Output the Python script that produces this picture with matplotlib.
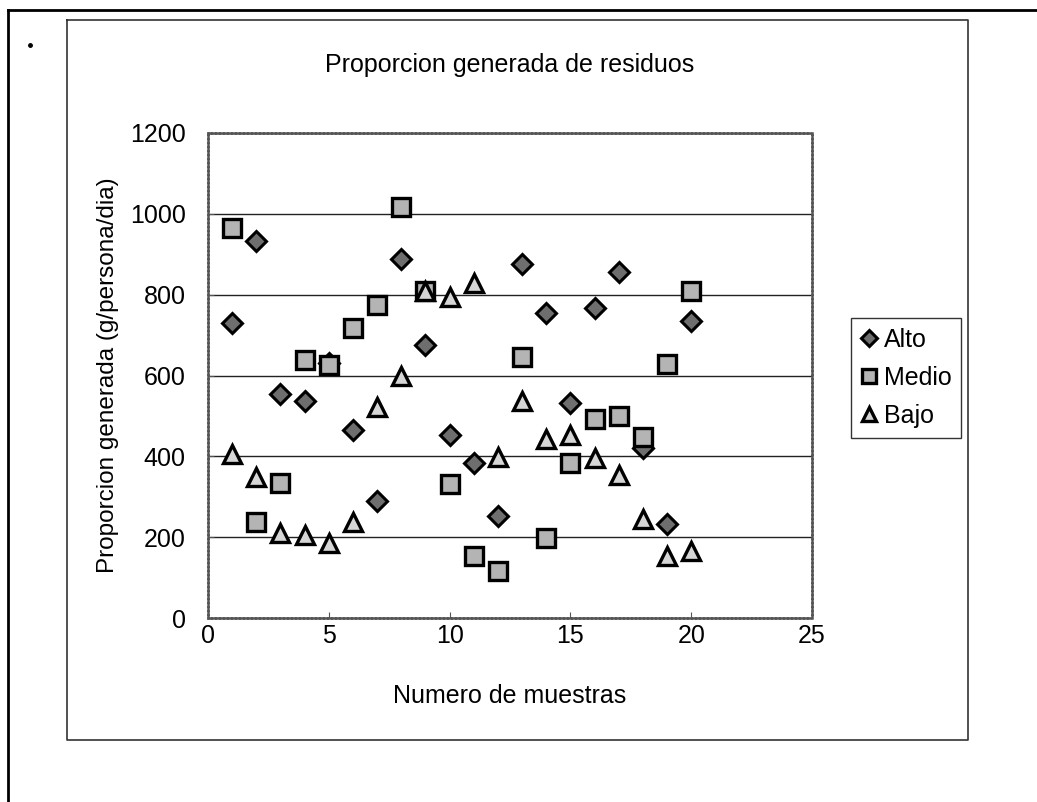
import matplotlib
matplotlib.use("Agg")
import matplotlib.pyplot as plt
from matplotlib.lines import Line2D

plt.rcParams['font.family'] = ['Liberation Sans', 'DejaVu Sans']

muestras = list(range(1, 21))
alto = [730, 933, 555, 537, 632, 464, 290, 888, 676, 454,
        383, 252, 877, 755, 532, 766, 855, 420, 232, 736]
medio = [966, 238, 334, 638, 625, 718, 775, 1017, 808, 332,
         153, 117, 645, 197, 383, 493, 501, 448, 629, 808]
bajo = [405, 349, 211, 205, 186, 238, 522, 598, 810, 793,
        830, 398, 538, 444, 454, 397, 353, 246, 153, 166]
series_names = ['Alto', 'Medio', 'Bajo']
x_ticks = [0, 5, 10, 15, 20, 25]
y_ticks = [0, 200, 400, 600, 800, 1000, 1200]

W, H = 1037, 802
fig = plt.figure(figsize=(W / 100, H / 100), dpi=100)
fig.patch.set_facecolor('white')

# page / chart frames
fig.add_artist(Line2D([8 / W, 8 / W], [0, 1 - 10 / H], color='black', lw=2))
fig.add_artist(Line2D([8 / W, 1], [1 - 10 / H, 1 - 10 / H], color='black', lw=2))
fig.add_artist(Line2D([67 / W, 968 / W, 968 / W, 67 / W, 67 / W],
                      [1 - 20 / H, 1 - 20 / H, 1 - 740 / H, 1 - 740 / H, 1 - 20 / H],
                      color='#333333', lw=1.2))
fig.add_artist(Line2D([30 / W], [1 - 45 / H], marker='o', ms=2.5, color='black', lw=0))

left, right, top, bottom = 208 / W, 812 / W, 1 - 133 / H, 1 - 618 / H
ax = fig.add_axes([left, bottom, right - left, top - bottom])

fs = 18
styles = {
    'Alto': dict(marker='D', ms=10.5, mfc='#6e6e6e', mec='black', mew=2.2),
    'Medio': dict(marker='s', ms=12.5, mfc='#b4b4b4', mec='black', mew=2.4),
    'Bajo': dict(marker='^', ms=13, mfc='#d6d6d6', mec='black', mew=2.4),
}
for name, vals in zip(series_names, [alto, medio, bajo]):
    ax.plot(muestras, vals, linestyle='none', label=name, zorder=3, **styles[name])

ax.set_xlim(0, 25)
ax.set_ylim(0, 1200)
ax.set_xticks(x_ticks)
ax.set_yticks(y_ticks)
ax.yaxis.grid(True, color='#222222', lw=1.0)
ax.set_axisbelow(True)
for s in ax.spines.values():
    s.set_color('#555555')
    s.set_linewidth(1.8)
    s.set_linestyle((0, (1, 0.6)))
ax.tick_params(axis='both', direction='in', length=4, width=0.8, color='#555555',
               labelsize=fs)
ax.tick_params(axis='x', pad=4)
ax.tick_params(axis='y', pad=16)

ax.set_title('Proporcion generada de residuos', fontsize=fs, pad=44)
ax.set_xlabel('Numero de muestras', fontsize=fs, labelpad=26)
ax.set_ylabel('Proporcion generada (g/persona/dia)', fontsize=17.5, labelpad=8)

leg = ax.legend(loc='upper left', bbox_to_anchor=(851 / W, 1 - 318 / H),
                bbox_transform=fig.transFigure, fontsize=fs, frameon=True,
                fancybox=False, edgecolor='black', handlelength=0.65,
                handletextpad=0.25, borderpad=0.4, labelspacing=0.55,
                borderaxespad=0, markerscale=0.75)
leg.get_frame().set_linewidth(1.0)

fig.savefig('out.png', dpi=100, facecolor='white')
